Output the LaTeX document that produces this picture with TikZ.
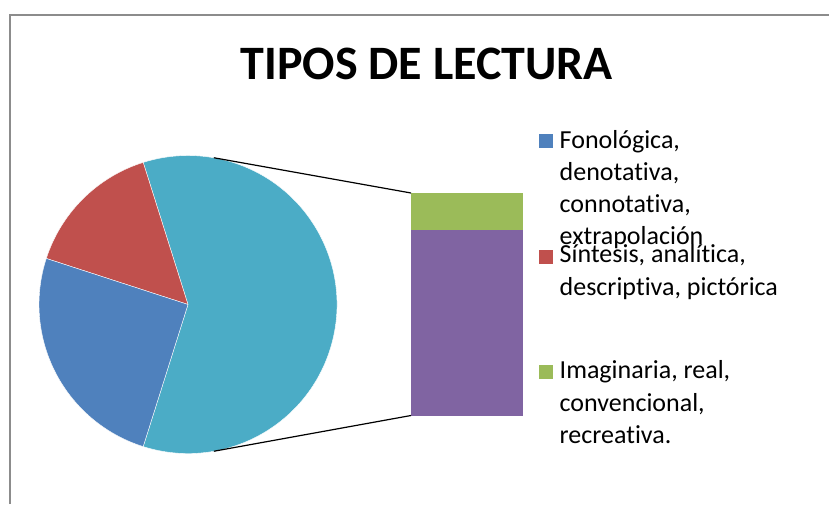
\documentclass[tikz,border=0pt]{standalone}
\usepackage{fontspec}
\setmainfont{Carlito}[Ligatures={NoCommon}]
\usetikzlibrary{calc}
\definecolor{pblue}{HTML}{4F81BD}
\definecolor{pred}{HTML}{C0504D}
\definecolor{pgreen}{HTML}{9BBB59}
\definecolor{ppurple}{HTML}{8064A2}
\definecolor{pcyan}{HTML}{4BACC6}
\definecolor{framegray}{HTML}{8C8C8C}
\tikzset{
  slice/.style={draw=white, line width=0.4pt, line join=round},
  legtext/.style={anchor=base west, inner sep=0pt, align=left,
    font=\fontsize{26}{32.3}\selectfont},
  legkey/.style={minimum size=14pt, inner sep=0pt, anchor=south west},
  zoomline/.style={draw=black, line width=1.2pt},
}
\begin{document}
\begin{tikzpicture}[x=1pt,y=1pt]
\useasboundingbox (0,0) rectangle (829,504);
\fill[white] (0,0) rectangle (829,504);
% chart frame
\draw[framegray, line width=2pt] (10.3,0) |- (829,489);
% title
\node[anchor=base, inner sep=0pt, font=\bfseries\fontsize{48}{56}\selectfont] (title) at (426.7,424) {TIPOS DE LECTURA};
% pie
\coordinate (c) at (188,199.5);
\fill[pcyan, slice] (c) -- ++(-107.5:149) arc[start angle=-107.5, end angle=107.5, radius=149] -- cycle;
\fill[pred, slice] (c) -- ++(107.5:149) arc[start angle=107.5, end angle=162, radius=149] -- cycle;
\fill[pblue, slice] (c) -- ++(162:149) arc[start angle=162, end angle=252.5, radius=149] -- cycle;
% bar
\fill[pgreen] (411,274) rectangle (523,311);
\fill[ppurple] (411,88.5) rectangle (523,274);
\coordinate (bartop) at (411,311);
\coordinate (barbot) at (411,88.5);
\coordinate (pietop) at ($(c)+(80:149)$);
\coordinate (piebot) at ($(c)+(-80:149)$);
\draw[zoomline] (pietop) -- (bartop);
\draw[zoomline] (piebot) -- (barbot);
% legend (node base = baseline of last line)
\node[legkey, fill=pblue] (k1) at (538.5,356) {};
\node[legtext] (t1) at (559.5,259.1) {Fonológica,\\denotativa,\\connotativa,\\extrapolación};
\node[legkey, fill=pred] (k2) at (538.5,240.2) {};
\node[legtext] (t2) at (559.5,209) {Síntesis, analítica,\\descriptiva, pictórica};
\node[legkey, fill=pgreen] (k3) at (538.5,125.2) {};
\node[legtext] (t3) at (559.5,60.7) {Imaginaria, real,\\convencional,\\recreativa.};
\end{tikzpicture}
\end{document}
